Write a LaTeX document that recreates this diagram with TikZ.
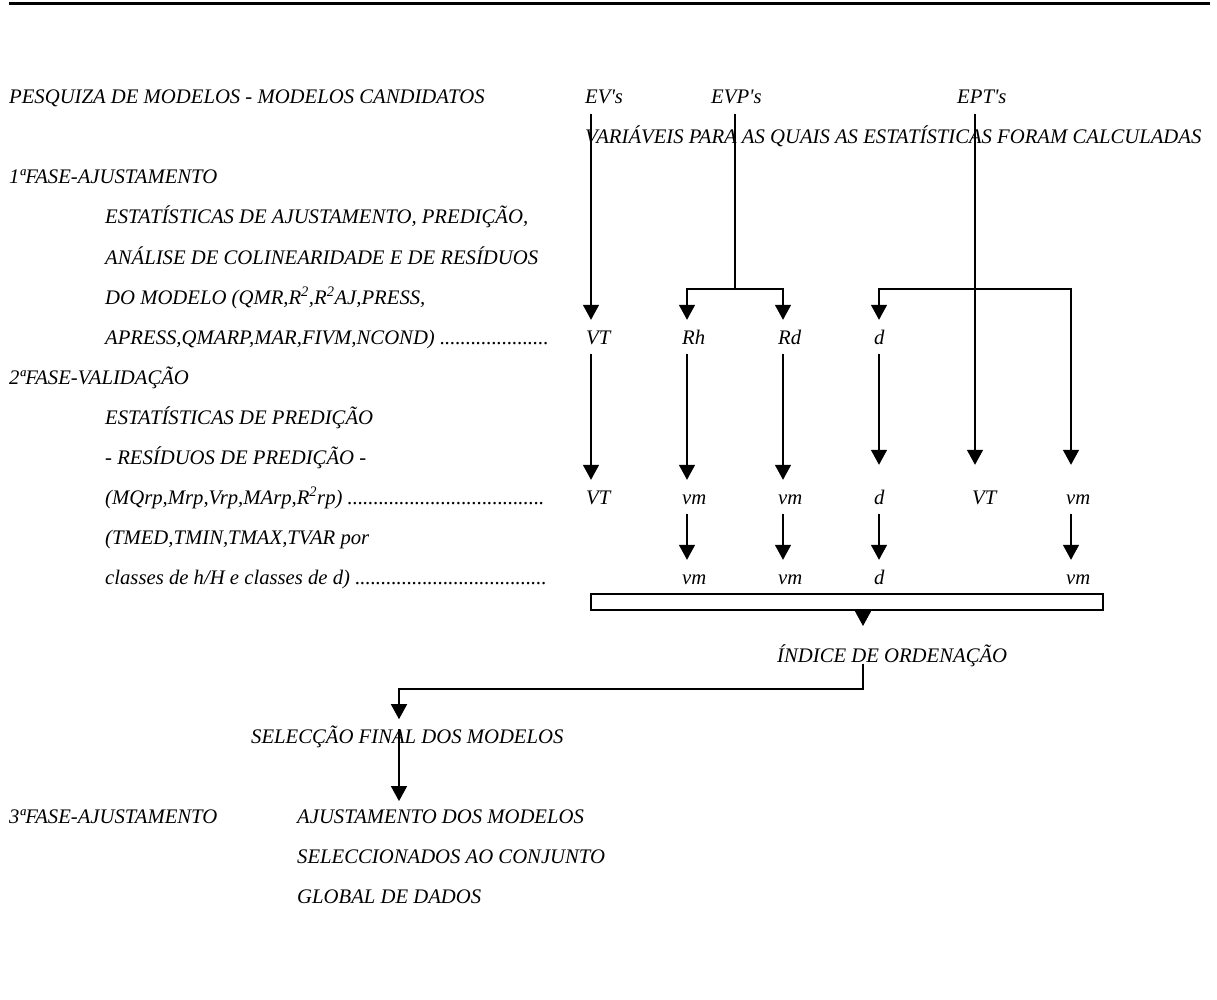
\documentclass[tikz,border=0pt]{standalone}
\usepackage{fontspec}
\setmainfont{Liberation Serif}
\usetikzlibrary{arrows.meta,positioning,calc}

\begin{document}
\begin{tikzpicture}[
            x=1pt, y=-1pt,
            every node/.style={font=\fontsize{20.7}{24}\selectfont\itshape},
            line/.style={
                anchor=base west,
                inner sep=0pt
            },
            var/.style={
                anchor=base west,
                inner xsep=0pt,
                inner ysep=10pt,
                text height=14pt,
                text depth=0pt
            },
            flow/.style={-{Triangle[width=16pt,length=15pt]}, line width=1.5pt},
            link/.style={line width=1.5pt}
        ]

            \useasboundingbox (0,0) rectangle (1217,1000);
            \draw[line width=3pt] (9,3.5) -- (1210,3.5);

            % left column
            \node[line] (search) at (9,104) {PESQUIZA DE MODELOS - MODELOS CANDIDATOS};
            \node[line] (phase1) at (9,184) {1ªFASE-AJUSTAMENTO};
            \node[line] (fitA) at (105,224) {ESTATÍSTICAS DE AJUSTAMENTO, PREDIÇÃO,};
            \node[line] (fitB) at (105,264) {ANÁLISE DE COLINEARIDADE E DE RESÍDUOS};
            \node[line] (fitC) at (105,304)
                {DO MODELO (QMR,R\textsuperscript{2},R\textsuperscript{2}AJ,PRESS,};
            \node[line] (fitD) at (105,344)
                {APRESS,QMARP,MAR,FIVM,NCOND) .....................};
            \node[line] (phase2) at (9,384) {2ªFASE-VALIDAÇÃO};
            \node[line] (valA) at (105,424) {ESTATÍSTICAS DE PREDIÇÃO};
            \node[line] (valB) at (105,464) {- RESÍDUOS DE PREDIÇÃO -};
            \node[line] (valC) at (105,504)
                {(MQrp,Mrp,Vrp,MArp,R\textsuperscript{2}rp) ......................................};
            \node[line] (valD) at (105,544) {(TMED,TMIN,TMAX,TVAR por};
            \node[line] (valE) at (105,584)
                {classes de h/H e classes de d) .....................................};
            \node[line] (phase3) at (9,823) {3ªFASE-AJUSTAMENTO};

            % statistics columns
            \node[var] (ev) at (585,104) {EV\textquotesingle s};
            \node[var] (evp) at (711,104) {EVP\textquotesingle s};
            \node[var] (ept) at (957,104) {EPT\textquotesingle s};
            \node[line] (vars) at (585,144)
                {VARIÁVEIS PARA AS QUAIS AS ESTATÍSTICAS FORAM CALCULADAS};

            \coordinate (xvt) at (591,0);
            \coordinate (xrh) at (687,0);
            \coordinate (xrd) at (783,0);
            \coordinate (xd) at (879,0);
            \coordinate (xept) at (975,0);
            \coordinate (xvm) at (1071,0);
            \coordinate (evpfork) at (735,289);
            \coordinate (eptfork) at (975,289);

            \node[var] (vtA) at (586,344) {VT};
            \node[var] (rhA) at (682,344) {Rh};
            \node[var] (rdA) at (778,344) {Rd};
            \node[var] (dA) at (874,344) {d};

            \node[var] (vtB) at (586,504) {VT};
            \node[var] (vmB) at (682,504) {vm};
            \node[var] (vmBB) at (778,504) {vm};
            \node[var] (dB) at (874,504) {d};
            \node[var] (vtBB) at (972,504) {VT};
            \node[var] (vmBBB) at (1066,504) {vm};

            \node[var] (vmC) at (682,584) {vm};
            \node[var] (vmCC) at (778,584) {vm};
            \node[var] (dC) at (874,584) {d};
            \node[var] (vmCCC) at (1066,584) {vm};

            \node[draw, line width=1.5pt, inner sep=0pt,
                minimum width=512pt, minimum height=16pt]
                (rankbox) at (847,602) {};

            \node[line] (index) at (777,662) {ÍNDICE DE ORDENAÇÃO};
            \node[line] (select) at (251,743) {SELECÇÃO FINAL DOS MODELOS};
            \node[line] (adjA) at (297,823) {AJUSTAMENTO DOS MODELOS};
            \node[line] (adjB) at (297,863) {SELECCIONADOS AO CONJUNTO};
            \node[line] (adjC) at (297,903) {GLOBAL DE DADOS};

            \coordinate (ranktip) at (863,626);
            \coordinate (selfork) at (399,689);

            % first phase
            \draw[flow] (ev.south -| xvt) -- (vtA.north -| xvt);
            \draw[link] (evp.south -| evpfork) -- (evpfork);
            \draw[flow] (evpfork) -| (rhA.north -| xrh);
            \draw[flow] (evpfork) -| (rdA.north -| xrd);
            \draw[flow] (eptfork) -| (dA.north -| xd);
            \draw[flow, shorten >=15pt] (eptfork) -| (vmBBB.north -| xvm);
            \draw[flow, shorten >=15pt] (ept.south -| xept) -- (vtBB.north -| xept);

            % second phase
            \draw[flow] (vtA.south -| xvt) -- (vtB.north -| xvt);
            \draw[flow] (rhA.south -| xrh) -- (vmB.north -| xrh);
            \draw[flow] (rdA.south -| xrd) -- (vmBB.north -| xrd);
            \draw[flow, shorten >=15pt] (dA.south -| xd) -- (dB.north -| xd);

            \draw[flow] (vmB.south -| xrh) -- (vmC.north -| xrh);
            \draw[flow] (vmBB.south -| xrd) -- (vmCC.north -| xrd);
            \draw[flow] (dB.south -| xd) -- (dC.north -| xd);
            \draw[flow] (vmBBB.south -| xvm) -- (vmCCC.north -| xvm);

            % ranking and final selection
            \draw[flow] (rankbox.south -| ranktip) -- (ranktip);
            \draw[flow, shorten >=6pt]
                ([yshift=3pt]index.south -| ranktip) |- (selfork)
                -- (select.north -| selfork);
            \draw[flow, shorten <=4pt, shorten >=8pt]
                (select.north -| selfork) -- (adjA.north -| selfork);

        \end{tikzpicture}
\end{document}
